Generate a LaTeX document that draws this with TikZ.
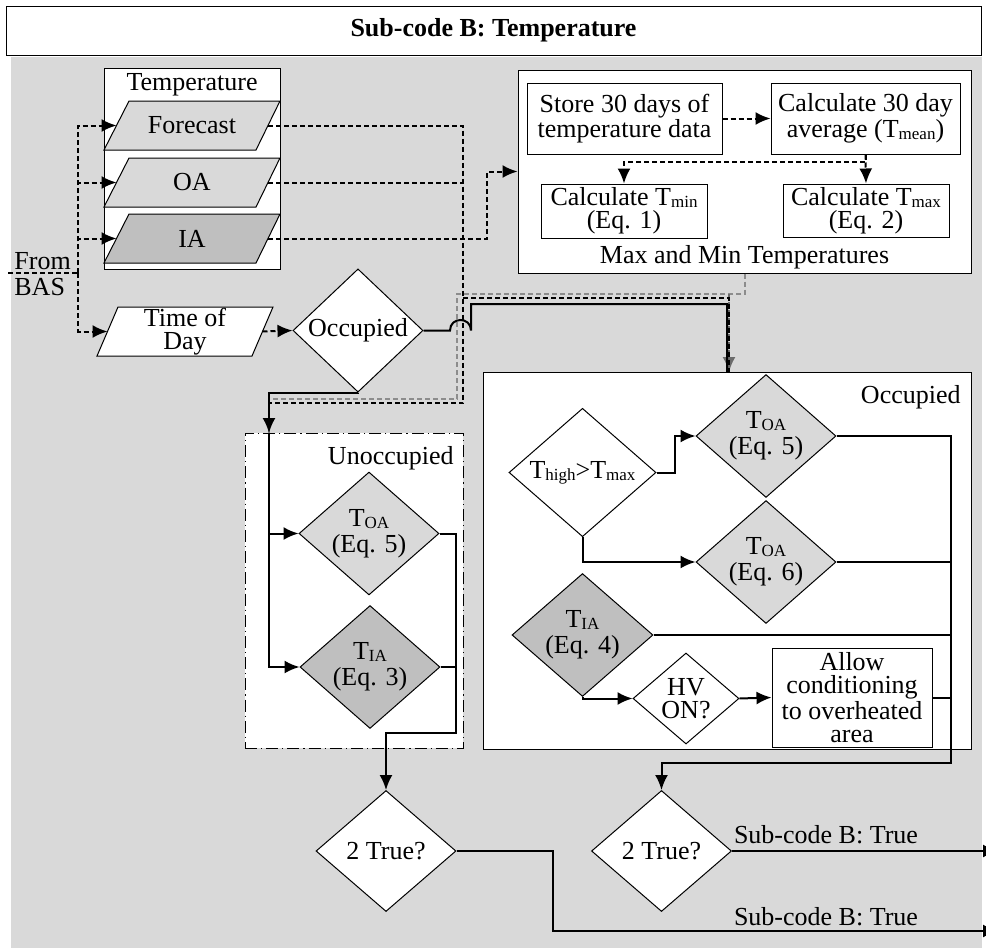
\documentclass[tikz,border=0pt]{standalone}
\usepackage{fontspec}
\setmainfont{Liberation Serif}
\usetikzlibrary{shapes.geometric,arrows.meta}
\definecolor{bgc}{gray}{0.85}
\definecolor{lfill}{gray}{0.85}
\definecolor{dfill}{gray}{0.75}
\definecolor{gline}{gray}{0.55}
\definecolor{garrow}{gray}{0.42}
\newcommand{\lsub}[1]{\raisebox{-0.15ex}{\fontsize{8.5pt}{8.5pt}\selectfont #1}}
\tikzset{
  base/.style={font=\fontsize{13pt}{11.5pt}\selectfont},
  box/.style={draw, line width=0.5pt, fill=white, inner sep=0pt, align=center},
  grp/.style={draw, line width=0.5pt, fill=white, inner sep=0pt},
  dia/.style={diamond, draw, line width=0.5pt, inner sep=0pt, align=center, fill=white},
  eqdia/.style={dia, minimum width=70pt, minimum height=60pt, font=\fontsize{13pt}{13pt}\selectfont},
  para/.style={draw, line width=0.5pt},
  tip/.style={-{Latex[length=7.5pt,width=6.5pt]}},
  sl/.style={line width=1pt},
  sla/.style={sl, tip},
  dl/.style={line width=1pt, dash pattern=on 2.5pt off 1.5pt},
  dla/.style={dl, tip},
  gl/.style={line width=1pt, gline, dash pattern=on 2.5pt off 1.5pt},
}
\begin{document}
\begin{tikzpicture}[x=0.5pt,y=-0.5pt,base]
\useasboundingbox (0,0) rectangle (986,948);
\fill[bgc] (11,57) rectangle (982,948);
% title
\node[box, minimum width=487.5pt, minimum height=24.5pt, font=\fontsize{13pt}{11.5pt}\selectfont\bfseries] (title) at (493.5,30.5) {Sub-code B: Temperature};

% ---------- temperature inputs
\node[grp, minimum width=88pt, minimum height=100.5pt] (tgrp) at (192,168.5) {};
\node (tlabel) at (192,85) {Temperature};
\draw[para, fill=lfill] (104,150) -- (129,101) -- (280,101) -- (256,150) -- cycle;
\node (fc) at (192,125.5) {Forecast};
\coordinate (fcL) at (116.5,125.5); \coordinate (fcR) at (268,125.5);
\draw[para, fill=lfill] (104,207) -- (129,158) -- (280,158) -- (256,207) -- cycle;
\node (oa) at (192,182.5) {OA};
\coordinate (oaL) at (116.5,182.5); \coordinate (oaR) at (268,182.5);
\draw[para, fill=dfill] (104,263) -- (129,214) -- (280,214) -- (256,263) -- cycle;
\node (ia) at (192,238.5) {IA};
\coordinate (iaL) at (116.5,238.5); \coordinate (iaR) at (268,238.5);
\draw[para, fill=white] (97,356) -- (118,307) -- (273,307) -- (252,356) -- cycle;
\node[align=center] (tod) at (185,331.5) {Time of\\Day};
\coordinate (tdL) at (107.5,331.5); \coordinate (tdR) at (262.5,331.5);
\node[anchor=west, inner sep=0pt] (from) at (14,261) {From};
\node[anchor=west, inner sep=0pt] (bas) at (14,287) {BAS};
\coordinate (basS) at (8,273); \coordinate (basJ) at (78,273);

\node[dia, minimum width=65pt, minimum height=45.5pt] (occ) at (358,330.5) {Occupied};

% ---------- max / min box
\node[grp, minimum width=226.5pt, minimum height=101.5pt] (mm) at (744.5,171.5) {};
\node[box, minimum width=97.5pt, minimum height=35.5pt] (store) at (624.5,118.5) {Store 30 days of\\temperature data};
\node[box, minimum width=94.5pt, minimum height=35.5pt] (avg) at (865.5,118.5) {Calculate 30 day\\average (T\lsub{mean})};
\node[box, minimum width=83pt, minimum height=27pt] (tmin) at (624,211) {Calculate T\lsub{min}\\(Eq. 1)};
\node[box, minimum width=83pt, minimum height=26.5pt] (tmax) at (866,210.5) {Calculate T\lsub{max}\\(Eq. 2)};
\node (mmlabel) at (744.5,257) {Max and Min Temperatures};

% ---------- unoccupied box
\node[grp, minimum width=109pt, minimum height=157.5pt, dash pattern=on 6pt off 2pt on 0.6pt off 2pt] (unocc) at (354,590.5) {};
\node[anchor=east, inner sep=0pt] (unlabel) at (454,458) {Unoccupied};
\node[eqdia, fill=lfill] (toa5u) at (369,533.5) {T\lsub{OA}\\(Eq. 5)};
\node[eqdia, fill=dfill] (tia3) at (370,667) {T\lsub{IA}\\(Eq. 3)};

% ---------- occupied box
\node[grp, minimum width=244pt, minimum height=188.5pt] (occbox) at (727,560.5) {};
\node[anchor=east, inner sep=0pt] (oclabel) at (961,397) {Occupied};
\node[dia, minimum width=73.5pt, minimum height=60.5pt] (th) at (582.5,472.5) {T\lsub{high}>T\lsub{max}};
\node[eqdia, fill=lfill] (toa5o) at (766,436) {T\lsub{OA}\\(Eq. 5)};
\node[eqdia, fill=lfill] (toa6o) at (766,562) {T\lsub{OA}\\(Eq. 6)};
\node[eqdia, fill=dfill, minimum width=70.5pt] (tia4o) at (582.5,635) {T\lsub{IA}\\(Eq. 4)};
\node[dia, minimum width=53pt, minimum height=45.5pt] (hv) at (686,698.5) {HV\\ON?};
\node[box, minimum width=80pt, minimum height=49.5pt] (allow) at (852,697.5) {Allow\\conditioning\\to overheated\\area};

% ---------- final decisions
\node[dia, minimum width=70pt, minimum height=60.5pt] (tl) at (386,851) {2 True?};
\node[dia, minimum width=70pt, minimum height=60.5pt] (tr) at (661.5,851) {2 True?};
\node (o1label) at (826,835) {Sub-code B: True};
\node (o2label) at (826,917) {Sub-code B: True};
\coordinate (out1) at (998,851);
\coordinate (out2) at (998,931);

% ---------- connectors: BAS inputs
\draw[dl] (basS) -- (basJ);
\draw[dla] (basJ) |- (fcL);
\draw[dla] (basJ) |- (oaL);
\draw[dla] (basJ) |- (iaL);
\draw[dla] (basJ) |- (tdL);
\draw[dla] (tdR) -- (occ.west);

% max/min internals
\draw[dla] (store.east) -- (avg.west);
\draw[dla] (avg.south) -- (tmax.north);
\draw[dla] (avg.south) -- (865.5,162) -| (tmin.north);
\draw[dla] (iaR) -- (487,238.5) -- (487,171.5) -- (mm.west);

% gray dashed (from max/min)
\coordinate (gj) at (729,294);
\draw[gl] (mm.south) |- (gj) -- (457,294) -- (457,398.5) -- (269,398.5) -- (269,433);
\draw[gl, garrow, tip] (gj) -- (729,372);

% black dashed (from forecast / OA)
\coordinate (bj) at (463,125.5);
\draw[dl] (fcR) -- (bj) -- (463,403) -- (269,403) -- (269,433);
\draw[dl] (oaR) -- (463,182.5);
\draw[dl] (463,298) -- (729,298) -- (729,372);

% solid from occupied decision
\draw[sl] (occ.east) -- (450,330.5) .. controls (450,316.5) and (471,316.5) .. (471,330.5) -- (471,304) -- (727,304) -- (727,372);
\draw[sla] (occ.south) -- (358,393) -- (269,393) -- (269,433);

% unoccupied internals
\draw[sla] (269,433) -- (269,667) -- (tia3.west);
\draw[sla] (269,533.5) -- (toa5u.west);
\draw[sla] (toa5u.east) -- (456,533.5) -- (456,732.5) -- (386,732.5) -- (tl.north);
\draw[sl] (tia3.east) -- (456,667);

% occupied internals
\draw[sla] (th.east) -- (675,472.5) -- (675,436) -- (toa5o.west);
\draw[sla] (th.south) -- (582.5,562) -- (toa6o.west);
\draw[sla] (tia4o.south) -- (582.5,698.5) -- (hv.west);
\draw[sla] (hv.east) -- (allow.west);
\draw[sla] (toa5o.east) -- (951,436) -- (951,763) -- (661.5,763) -- (tr.north);
\draw[sl] (toa6o.east) -- (951,562);
\draw[sl] (tia4o.east) -- (951,635);
\draw[sl] (allow.east) -- (951,697.5);

% outputs
\draw[sla] (tr.east) -- (out1);
\draw[sla] (tl.east) -- (553,851) -- (553,931) -- (out2);
\end{tikzpicture}
\end{document}
